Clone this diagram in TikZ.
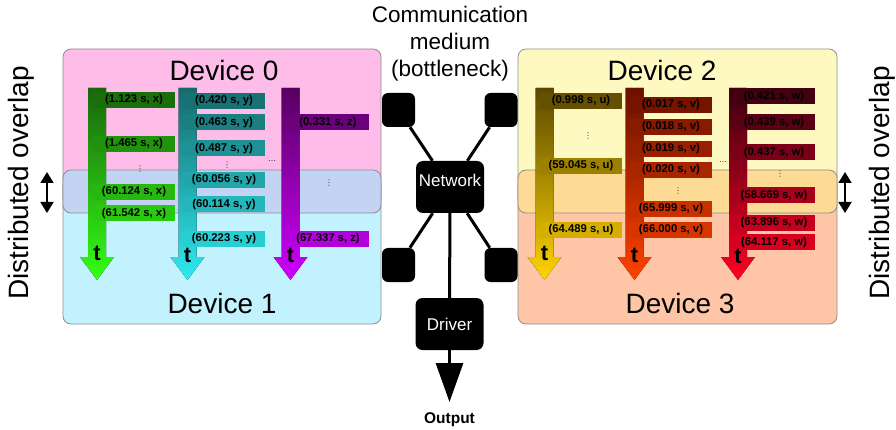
\documentclass[tikz,border=0pt]{standalone}
\usepackage{fontspec}
\setmainfont{Liberation Sans}
\newfontfamily\symfont{DejaVu Sans}
\usetikzlibrary{arrows.meta}
\definecolor{pinkA}{HTML}{FDBDE8}
\definecolor{cyanA}{HTML}{C2F2FD}
\definecolor{lavA}{HTML}{C3D3F3}
\definecolor{yelA}{HTML}{FEF9C1}
\definecolor{salA}{HTML}{FEC6A6}
\definecolor{orA}{HTML}{FDDB95}
\definecolor{bordA}{HTML}{8E8E8E}
\definecolor{gT}{HTML}{1A650C}\definecolor{gB}{HTML}{33FF14}
\definecolor{cT}{HTML}{17696B}\definecolor{cB}{HTML}{2EEAF0}
\definecolor{mT}{HTML}{560060}\definecolor{mB}{HTML}{CF00FF}
\definecolor{yT}{HTML}{5A4800}\definecolor{yB}{HTML}{FFD500}
\definecolor{vT}{HTML}{6A1000}\definecolor{vB}{HTML}{FF4200}
\definecolor{wT}{HTML}{3A0010}\definecolor{wB}{HTML}{FF0024}
\newcommand{\tline}[3]{% center x, top colour, bottom colour
  \fill[top color=#2, bottom color=#3]
    (#1-9,88) -- (#1+9,88) -- (#1+9,257) -- (#1+17,257) -- (#1,280)
    -- (#1-17,257) -- (#1-9,257) -- cycle;}
\newcommand{\tmark}[3]{% name, center x, baseline y
  \node[tletter] (#1) at (#2,#3) {t};}
\newcommand{\tlab}[6]{% name, left x, centre y, text, top colour, bottom colour
  \pgfmathtruncatemacro\mypct{(#3-88)/192*100}
  \node[lab, fill=#6!\mypct!#5] (#1) at (#2+41,#3) {#4};}
\begin{document}
\begin{tikzpicture}[x=1pt,y=-1pt,
  devbox/.style={draw=bordA, line width=0.8pt, rounded corners=8pt},
  devtext/.style={font=\fontsize{28}{32}\selectfont},
  lab/.style={rectangle, minimum width=82pt, minimum height=16pt, inner sep=0pt,
    font=\bfseries\fontsize{11.3}{12}\selectfont, text=black},
  tletter/.style={anchor=base, font=\bfseries\fontsize{22}{24}\selectfont, inner sep=0pt},
  dots/.style={font=\symfont\fontsize{8}{9}\selectfont, text=black!80, inner sep=0pt},
  sq/.style={fill=black, rounded corners=6pt, minimum width=33pt, minimum height=34pt, inner sep=0pt},
  bigbox/.style={fill=black, rounded corners=7pt, minimum width=68pt, minimum height=52pt,
    inner sep=0pt, text=white, font=\fontsize{17}{20}\selectfont},
  conn/.style={line width=3pt},
  ovarrow/.style={line width=1.8pt, {Triangle[width=13pt,length=11pt]}-{Triangle[width=13pt,length=11pt]}}
]
\useasboundingbox (0,0) rectangle (896,430);
% device boxes
\draw[devbox, fill=pinkA] (63,49) rectangle (381,205);
\draw[devbox, fill=cyanA] (63,178) rectangle (381,324);
\draw[devbox, fill=lavA] (63,170) rectangle (381,213);
\draw[devbox, fill=yelA] (518,49) rectangle (837,205);
\draw[devbox, fill=salA] (518,178) rectangle (837,324);
\draw[devbox, fill=orA] (518,170) rectangle (837,213);
\node[devtext] (dev0) at (224,70) {Device 0};
\node[devtext] (dev1) at (222,303) {Device 1};
\node[devtext] (dev2) at (662,70) {Device 2};
\node[devtext] (dev3) at (680,303) {Device 3};
% side texts
\node[devtext, rotate=90] (sideL) at (21,183) {Distributed overlap};
\node[devtext, rotate=90] (sideR) at (882,183) {Distributed overlap};
\coordinate (oa1) at (47,172); \coordinate (ob1) at (47,213);
\coordinate (oa2) at (845,172); \coordinate (ob2) at (845,213);
\draw[ovarrow] (oa1) -- (ob1);
\draw[ovarrow] (oa2) -- (ob2);
% timelines
\tline{97}{gT}{gB}
\tline{187.5}{cT}{cB}
\tline{290.5}{mT}{mB}
\tline{544.5}{yT}{yB}
\tline{634.5}{vT}{vB}
\tline{738}{wT}{wB}
% labels device 0/1
\tlab{x1}{93}{100}{(1.123 s, x)}{gT}{gB}
\tlab{x2}{93}{144}{(1.465 s, x)}{gT}{gB}
\tlab{x3}{93}{192}{(60.124 s, x)}{gT}{gB}
\tlab{x4}{93}{213.5}{(61.542 s, x)}{gT}{gB}
\tlab{y1}{183}{101}{(0.420 s, y)}{cT}{cB}
\tlab{y2}{183}{122.5}{(0.463 s, y)}{cT}{cB}
\tlab{y3}{183}{148.5}{(0.487 s, y)}{cT}{cB}
\tlab{y4}{183}{180}{(60.056 s, y)}{cT}{cB}
\tlab{y5}{183}{204.5}{(60.114 s, y)}{cT}{cB}
\tlab{y6}{183}{239}{(60.223 s, y)}{cT}{cB}
\tlab{z1}{287}{122.5}{(0.331 s, z)}{mT}{mB}
\tlab{z2}{287}{239}{(67.337 s, z)}{mT}{mB}
% labels device 2/3
\tlab{u1}{540}{101}{(0.998 s, u)}{yT}{yB}
\tlab{u2}{540}{166}{(59.045 s, u)}{yT}{yB}
\tlab{u3}{540}{230}{(64.489 s, u)}{yT}{yB}
\tlab{v1}{630}{105}{(0.017 s, v)}{vT}{vB}
\tlab{v2}{630}{127}{(0.018 s, v)}{vT}{vB}
\tlab{v3}{630}{149}{(0.019 s, v)}{vT}{vB}
\tlab{v4}{630}{170}{(0.020 s, v)}{vT}{vB}
\tlab{v5}{630}{209}{(65.999 s, v)}{vT}{vB}
\tlab{v6}{630}{230}{(66.000 s, v)}{vT}{vB}
\tlab{w1}{733}{96.5}{(0.421 s, w)}{wT}{wB}
\tlab{w2}{733}{122.5}{(0.439 s, w)}{wT}{wB}
\tlab{w3}{733}{152.5}{(0.437 s, w)}{wT}{wB}
\tlab{w4}{733}{195.5}{(58.669 s, w)}{wT}{wB}
\tlab{w5}{733}{223}{(63.896 s, w)}{wT}{wB}
\tlab{w6}{733}{242.5}{(64.117 s, w)}{wT}{wB}
% t marks on the arrow heads
\tmark{t0}{97}{261}
\tmark{t1}{187.5}{262}
\tmark{t2}{290.5}{262}
\tmark{t3}{544.5}{261}
\tmark{t4}{634.5}{262}
\tmark{t5}{738}{263}
% dots
\node[dots] (k1) at (140,169) {⋮};
\node[dots] (k2) at (227,165) {⋮};
\node[dots] (k3) at (329,183) {⋮};
\node[dots] (k4) at (588,136) {⋮};
\node[dots] (k5) at (678,191) {⋮};
\node[dots] (k6) at (780,174) {⋮};
\node[dots] (h1) at (272,162) {⋯};
\node[dots] (h2) at (723,163) {⋯};
% communication medium
\node[align=center, font=\fontsize{22.5}{27}\selectfont] (comm) at (450,44)
  {Communication\\medium\\(bottleneck)};
\node[sq] (s0) at (398.5,110) {};
\node[sq] (s2) at (501,110) {};
\node[sq] (s1) at (398.5,265) {};
\node[sq] (s3) at (501,265) {};
\node[bigbox, text depth=14pt] (net) at (450,187) {Network};
\node[bigbox] (drv) at (449.5,324) {Driver};
\draw[conn] (s0) -- (net);
\draw[conn] (s2) -- (net);
\draw[conn] (s1) -- (net);
\draw[conn] (s3) -- (net);
\draw[conn] (net) -- (drv);
\coordinate (outtip) at (449.5,402);
\draw[conn, -{Triangle[width=27pt,length=39pt]}] (drv) -- (outtip);
\node[font=\bfseries\fontsize{15.5}{17}\selectfont] (out) at (449.5,420) {Output};
\end{tikzpicture}
\end{document}
